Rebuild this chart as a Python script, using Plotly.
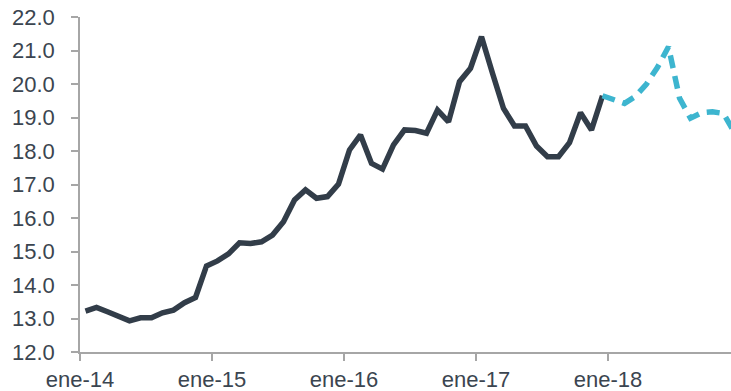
import plotly.graph_objects as go

# Monthly values, Jan-2014 .. Dec-2018 (index 0..59)
months = [f"{m}-{y}" for y in range(14, 19) for m in
          ["ene", "feb", "mar", "abr", "may", "jun", "jul", "ago", "sep", "oct", "nov", "dic"]]

historico = [13.22, 13.33, 13.20, 13.05, 12.93, 13.02, 13.02, 13.17, 13.25, 13.47, 13.63, 14.57,
             14.72, 14.93, 15.26, 15.24, 15.29, 15.49, 15.89, 16.54, 16.84, 16.59, 16.64, 17.01,
             18.03, 18.48, 17.63, 17.46, 18.18, 18.63, 18.61, 18.53, 19.22, 18.87, 20.07, 20.47,
             21.41, 20.32, 19.27, 18.75, 18.75, 18.15, 17.83, 17.83, 18.25, 19.14, 18.63, 19.65]

proyeccion = [19.65, 19.53, 19.42, 19.63, 20.0, 20.5, 21.11, 19.58, 18.98, 19.14, 19.17, 19.12, 18.55]

tick_vals = [0, 12, 24, 36, 48]
tick_text = ["ene-14", "ene-15", "ene-16", "ene-17", "ene-18"]
y_ticks = [12 + k for k in range(11)]

# points sit at the middle of each month
x_hist = [i + 0.5 for i in range(len(historico))]
start_proj = len(historico) - 1
x_proj = [start_proj + i + 0.5 for i in range(len(proyeccion))]

font = dict(family="Liberation Sans, Arial, sans-serif", size=22, color="#3B4550")

fig = go.Figure()
fig.add_trace(go.Scatter(x=x_hist, y=historico, mode="lines",
                         line=dict(color="#323D49", width=5.5), hoverinfo="skip"))
fig.add_trace(go.Scatter(x=x_proj, y=proyeccion, mode="lines",
                         line=dict(color="#3DB5CF", width=5.5, dash="13px,8px"), hoverinfo="skip"))

fig.update_layout(
    width=731, height=391,
    margin=dict(l=80, r=0, t=17, b=39),
    paper_bgcolor="white", plot_bgcolor="white",
    showlegend=False, font=font,
)
fig.update_xaxes(range=[0, 651 / 11], tickvals=tick_vals, ticktext=tick_text,
                 showline=True, linecolor="#A6A6A6", linewidth=1.5,
                 ticks="outside", ticklen=7, tickcolor="#A6A6A6", tickwidth=1.5,
                 showgrid=False, zeroline=False, tickfont=font)
fig.update_yaxes(range=[12, 22], tickvals=y_ticks, tickformat=".1f",
                 showline=True, linecolor="#A6A6A6", linewidth=1.5,
                 ticks="outside", ticklen=7, tickcolor="#A6A6A6", tickwidth=1.5,
                 showgrid=False, zeroline=False, tickfont=font, ticklabelstandoff=12)

fig.write_html("out.html")
